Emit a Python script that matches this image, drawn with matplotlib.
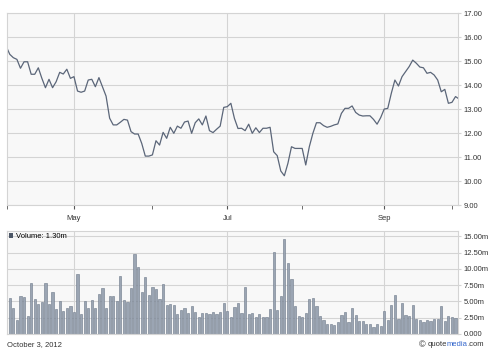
"""
Six-month price and volume chart, quotemedia style.
"""

import pandas as pd
import matplotlib.pyplot as plt
from matplotlib.patches import Patch


# trading days Apr 3 - Oct 3 2012 (US market holidays removed)
HOLIDAYS = ["2012-04-06", "2012-05-28", "2012-07-04", "2012-09-03"]
dates = pd.bdate_range("2012-04-03", "2012-10-03").drop(pd.to_datetime(HOLIDAYS))

close = [
    15.62, 15.29, 15.15, 15.08, 14.71, 14.98, 14.98, 14.46, 14.46, 14.73,
    14.29, 13.90, 14.25, 13.90, 14.15, 14.54, 14.47, 14.67, 14.29, 14.36,
    13.76, 13.71, 13.76, 14.22, 14.25, 13.94, 14.32, 13.94, 13.55, 12.63,
    12.35, 12.35, 12.46, 12.58, 12.55, 12.07, 11.97, 11.97, 11.58, 11.05,
    11.05, 11.10, 11.69, 11.51, 12.04, 11.79, 12.25, 12.00, 12.30, 12.21,
    12.47, 12.51, 12.00, 12.44, 12.60, 12.35, 12.72, 12.11, 12.03, 12.17,
    12.30, 13.08, 13.11, 13.25, 12.62, 12.20, 12.21, 12.11, 12.38, 12.00,
    12.23, 12.03, 12.21, 12.21, 12.25, 11.23, 11.07, 10.43, 10.23, 10.75,
    11.44, 11.37, 11.37, 11.37, 10.68, 11.44, 12.00, 12.44, 12.44, 12.32,
    12.25, 12.29, 12.35, 12.39, 12.83, 13.04, 13.04, 13.14, 12.87, 12.76,
    12.72, 12.73, 12.73, 12.58, 12.38, 12.65, 13.01, 13.04, 13.67, 14.22,
    13.97, 14.36, 14.57, 14.78, 15.05, 14.92, 14.76, 14.73, 14.50, 14.54,
    14.43, 14.22, 13.73, 13.83, 13.25, 13.29, 13.53, 13.43,
]

# volume in millions
volume = [
    4.30, 5.48, 3.94, 2.15, 5.79, 5.63, 2.71, 7.78, 5.33, 4.56,
    4.92, 7.78, 4.56, 6.40, 3.79, 5.07, 3.53, 3.94, 4.30, 3.33,
    9.17, 3.07, 5.02, 3.94, 5.17, 3.94, 6.09, 7.01, 3.94, 5.79,
    5.79, 5.02, 8.91, 5.17, 4.86, 7.01, 12.29, 10.24, 6.45, 8.70,
    5.94, 7.17, 6.86, 5.33, 7.63, 4.40, 4.56, 4.40, 3.02, 3.69,
    3.94, 3.17, 4.25, 3.33, 2.56, 3.17, 3.17, 3.02, 3.33, 3.02,
    3.33, 4.71, 3.53, 2.56, 4.10, 4.71, 3.17, 7.17, 3.02, 3.17,
    2.56, 3.02, 2.56, 2.56, 3.79, 12.65, 3.69, 5.79, 14.54, 10.86,
    8.40, 4.25, 2.71, 2.56, 3.17, 5.33, 5.48, 4.25, 2.71, 2.10,
    1.54, 1.54, 1.33, 1.79, 2.87, 3.33, 1.79, 3.94, 2.87, 1.94,
    1.94, 1.48, 1.48, 1.02, 1.48, 1.18, 3.48, 2.10, 4.40, 5.94,
    2.25, 4.71, 2.87, 2.71, 4.40, 2.25, 2.10, 1.79, 2.10, 1.94,
    2.25, 2.25, 4.25, 1.94, 2.71, 2.56, 2.41, 1.30,
]

price_ticks = [9, 10, 11, 12, 13, 14, 15, 16, 17]
volume_ticks = [0, 2.5, 5, 7.5, 10, 12.5, 15]
labelled_months = ["May", "Jul", "Sep"]

LINE = "#5b6679"
GRID = "#d4d4d4"
BG = "#f8f8f8"
TXT = "#333333"

plt.rcParams["font.family"] = ["Liberation Sans", "DejaVu Sans"]

x = list(range(len(dates)))
month_start = pd.Series(x, index=dates).groupby(dates.to_period("M")).first()
month_start = month_start.iloc[1:]
major = [month_start.iloc[k] for k in range(len(month_start))
         if dates[month_start.iloc[k]].strftime("%b") in labelled_months]
minor = [v for v in month_start if v not in major]

fig = plt.figure(figsize=(4.9, 3.57), dpi=100)
W, H = 490.0, 357.0
ax_p = fig.add_axes([7 / W, 1 - 205.3 / H, 451.3 / W, 192.0 / H])
ax_v = fig.add_axes([7 / W, 1 - 334.0 / H, 451.3 / W, 103.3 / H])

xlo, xhi = 0.22, 126.78

for ax in (ax_p, ax_v):
    ax.set_facecolor(BG)
    ax.set_xlim(xlo, xhi)
    for s in ax.spines.values():
        s.set_color(GRID)
        s.set_linewidth(0.8)
    ax.yaxis.tick_right()
    ax.tick_params(axis="y", length=2, color=GRID, labelsize=5.5,
                   labelcolor=TXT, pad=2)
    ax.set_xticks(major)
    ax.set_xticks(minor + [xlo], minor=True)
    ax.grid(True, which="major", color=GRID, linewidth=0.8)
    ax.set_axisbelow(True)

# price panel
ax_p.plot(x, close, color=LINE, linewidth=0.9)
ax_p.set_ylim(9, 17)
ax_p.set_yticks(price_ticks)
ax_p.set_yticklabels([f"{v:.2f}" for v in price_ticks])
ax_p.set_xticklabels([dates[i].strftime("%b") for i in major])
ax_p.tick_params(axis="x", which="both", direction="out", length=3,
                 color="#555555", labelsize=5.5, labelcolor=TXT, pad=4)

# volume panel
ax_v.bar(x, volume, width=0.62, color="#9ba5b3", edgecolor="#6c7889",
         linewidth=0.4)
ax_v.set_ylim(0, 15.87)
ax_v.set_yticks(volume_ticks)
ax_v.set_yticklabels([f"{v:.2f}m" if v else "0.000" for v in volume_ticks])
ax_v.tick_params(axis="x", which="both", length=0, labelbottom=False)
ax_v.legend(handles=[Patch(facecolor="#4d5868",
                           label=f"Volume: {volume[-1]:.2f}m")],
            loc="upper left", frameon=False, fontsize=5.5,
            handlelength=0.6, handleheight=0.8, handletextpad=0.3,
            borderpad=0.15, borderaxespad=0.1)

# footer
fig.text(7 / W, 1 - 345 / H, dates[-1].strftime("%B %-d, %Y"),
         fontsize=5.5, color=TXT, va="center", ha="left")

fig.canvas.draw()
r = fig.canvas.get_renderer()
parts = [("©", TXT), ("quote", TXT), ("media", "#3366cc"), (".com", TXT)]
widths = []
for s, c in parts:
    t = fig.text(0, 0, s, fontsize=5.5 if s != "©" else 6.5)
    widths.append(t.get_window_extent(r).width)
    t.remove()
xpos = 484.0 - sum(widths) - 1.5
for (s, c), w in zip(parts, widths):
    fig.text(xpos / W, 1 - 345 / H, s, fontsize=5.5 if s != "©" else 6.5,
             color=c, va="center", ha="left")
    xpos += w + (1.5 if s == "©" else 0)

fig.savefig("out.png", dpi=100)
